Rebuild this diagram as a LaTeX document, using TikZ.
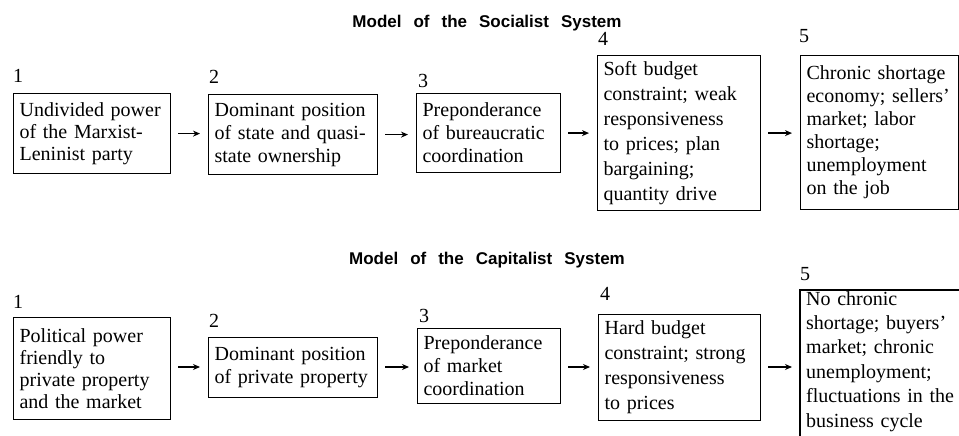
\documentclass[tikz,border=0pt]{standalone}
\usepackage{fontspec}
\setmainfont{Liberation Serif}
\newfontfamily\titlefont{Liberation Sans}
\usetikzlibrary{arrows.meta,calc}
\newcommand\wsp{\hspace{12pt}}
\tikzset{
  boxline/.style={line width=1.2pt},
  box/.style={draw, boxline, anchor=north west, align=left, inner xsep=6pt, inner ysep=0pt,
    font=\fontsize{20}{23}\selectfont},
  num/.style={anchor=base west, inner sep=0pt, font=\fontsize{20}{23}\selectfont},
  ttl/.style={anchor=base, inner sep=0pt, font=\titlefont\bfseries\fontsize{17}{20}\selectfont},
  arr/.style={-{Stealth[length=7pt,width=6pt]}, line width=1.3pt, shorten <=7pt, shorten >=8pt},
}
\begin{document}
\begin{tikzpicture}[x=1pt,y=-1pt]
\useasboundingbox (0,0) rectangle (959,436);
\clip (0,0) rectangle (959,436);

% Titles
\node[ttl] (t1) at (487,28) {Model\wsp of\wsp the\wsp Socialist\wsp System};
\node[ttl] (t2) at (487,264) {Model\wsp of\wsp the\wsp Capitalist\wsp System};

% Socialist row
\node[box, text width=145pt, minimum height=80pt, font=\fontsize{20}{22}\selectfont] (s1) at (13,93)
  {Undivided power\\of the Marxist-\\Leninist party};
\node[box, text width=157pt, minimum height=80pt] (s2) at (208,94)
  {Dominant position\\of state and quasi-\\state ownership};
\node[box, text width=132pt, minimum height=79pt] (s3) at (416,93)
  {Preponderance\\of bureaucratic\\coordination};
\node[box, text width=151pt, minimum height=155pt, font=\fontsize{20}{25}\selectfont] (s4) at (597,55)
  {Soft budget\\constraint; weak\\responsiveness\\to prices; plan\\bargaining;\\quantity drive};
\node[box, text width=146pt, minimum height=154pt] (s5) at (800,55)
  {Chronic shortage\\economy; sellers'\\market; labor\\shortage;\\unemployment\\on the job};

\node[num] (ns1) at ([shift={(0,-11)}]s1.north west) {1};
\node[num] (ns2) at ([shift={(1,-10)}]s2.north west) {2};
\node[num] (ns3) at ([shift={(2,-5)}]s3.north west) {3};
\node[num] (ns4) at ([shift={(1,-9)}]s4.north west) {4};
\node[num] (ns5) at ([shift={(-1,-12)}]s5.north west) {5};

\draw[arr] (s1.east) -- (s1.east -| s2.west);
\draw[arr] (s2.east) -- (s2.east -| s3.west);
\draw[arr] (s3.east) -- (s3.east -| s4.west);
\draw[arr] (s4.east) -- (s4.east -| s5.west);

% Capitalist row
\node[box, text width=145pt, minimum height=102pt, font=\fontsize{20}{22}\selectfont] (c1) at (13,317)
  {Political power\\friendly to\\private property\\and the market};
\node[box, text width=157pt, minimum height=60pt] (c2) at (208,337)
  {Dominant position\\of private property};
\node[box, text width=131pt, minimum height=75pt] (c3) at (417,328)
  {Preponderance\\of market\\coordination};
\node[box, text width=150pt, minimum height=106pt, font=\fontsize{20}{25}\selectfont] (c4) at (598,314)
  {Hard budget\\constraint; strong\\responsiveness\\to prices};
\node[anchor=north west, align=left, inner xsep=6pt, inner ysep=1pt, text width=147pt,
  font=\fontsize{20}{24.4}\selectfont] (c5) at (800,290)
  {No chronic\\shortage; buyers'\\market; chronic\\unemployment;\\\mbox{fluctuations in the}\\business cycle};
\draw[boxline] ([yshift=-60pt]c5.south west) -- (c5.north west) -- (c5.north east) -- ([yshift=-60pt]c5.south east);

\node[num] (nc1) at ([shift={(0,-9)}]c1.north west) {1};
\node[num] (nc2) at ([shift={(1,-10)}]c2.north west) {2};
\node[num] (nc3) at ([shift={(2,-6)}]c3.north west) {3};
\node[num] (nc4) at ([shift={(2,-14)}]c4.north west) {4};
\node[num] (nc5) at ([shift={(0,-10)}]c5.north west) {5};

\draw[arr] (c1.east |- 0,367) -- (c2.west |- 0,367);
\draw[arr] (c2.east |- 0,367) -- (c3.west |- 0,367);
\draw[arr] (c3.east |- 0,367) -- (c4.west |- 0,367);
\draw[arr] (c4.east |- 0,367) -- (c5.west |- 0,367);
\end{tikzpicture}
\end{document}
